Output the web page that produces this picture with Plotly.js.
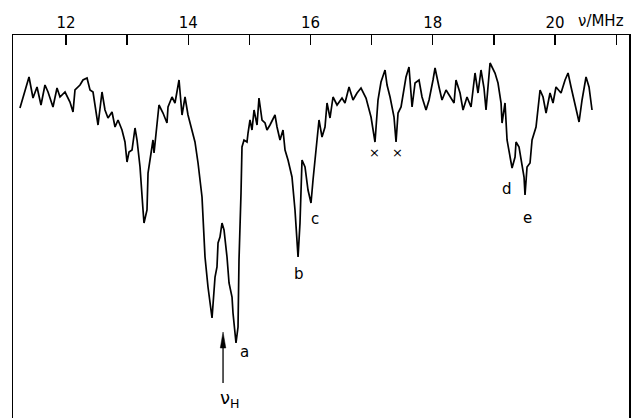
<!DOCTYPE html>
<html>
<head>
<meta charset="utf-8">
<script src="https://cdn.plot.ly/plotly-3.0.1.min.js"></script>
<style>html,body{margin:0;padding:0;background:#fff;}#chart{width:633px;height:418px;}</style>
</head>
<body>
<div id="chart"></div>
<script>
// frequency in MHz
const freq = [11.247,11.313,11.395,11.460,11.526,11.591,11.656,11.706,11.787,11.853,11.902,11.984,12.065,12.115,12.147,12.229,12.278,12.344,12.393,12.442,12.524,12.589,12.638,12.687,12.753,12.802,12.851,12.916,12.965,12.998,13.031,13.080,13.129,13.162,13.211,13.260,13.276,13.325,13.342,13.374,13.423,13.440,13.489,13.521,13.587,13.652,13.669,13.734,13.783,13.816,13.849,13.898,13.947,13.996,14.061,14.110,14.160,14.225,14.274,14.323,14.389,14.438,14.470,14.487,14.519,14.552,14.585,14.634,14.667,14.716,14.732,14.781,14.814,14.830,14.863,14.879,14.912,14.961,14.978,15.010,15.043,15.076,15.125,15.157,15.207,15.256,15.288,15.337,15.419,15.452,15.501,15.550,15.583,15.632,15.697,15.746,15.796,15.828,15.861,15.910,15.959,16.008,16.041,16.106,16.139,16.188,16.237,16.270,16.319,16.368,16.434,16.515,16.564,16.630,16.695,16.761,16.826,16.908,16.990,17.055,17.104,17.153,17.219,17.252,17.301,17.366,17.399,17.432,17.481,17.562,17.611,17.661,17.710,17.775,17.824,17.890,17.939,18.004,18.037,18.102,18.151,18.217,18.282,18.348,18.380,18.446,18.495,18.560,18.626,18.691,18.740,18.789,18.838,18.871,18.937,19.018,19.067,19.117,19.133,19.182,19.215,19.264,19.297,19.346,19.362,19.411,19.444,19.493,19.509,19.542,19.591,19.624,19.689,19.755,19.804,19.853,19.918,19.967,20.016,20.098,20.164,20.213,20.262,20.344,20.393,20.442,20.507,20.556,20.605];
// signal (arbitrary units)
const signal = [310,323,341,320,331,313,333,326,311,330,321,326,316,306,328,333,338,340,328,326,293,326,308,300,306,291,298,288,276,256,266,268,290,278,251,208,195,208,245,258,278,265,291,313,305,295,311,321,315,325,338,303,321,303,286,276,255,221,161,131,100,141,151,175,181,195,188,161,135,121,105,75,91,158,225,271,278,276,285,298,288,308,293,320,298,295,288,293,303,291,278,288,268,258,241,208,161,195,258,251,228,215,238,278,298,281,291,315,300,321,313,320,315,331,318,325,330,320,301,276,318,336,348,333,321,301,276,305,311,341,351,311,335,338,321,308,318,338,350,331,318,328,321,315,338,325,308,321,311,345,325,348,330,308,355,345,335,315,295,315,278,261,250,261,276,271,258,241,223,251,255,278,291,328,321,305,325,315,331,325,338,345,331,311,296,318,341,331,308];
// peak labels
const peakLabels = ['a','b','c','d','e','×','×'];
const peakX = [14.928,15.812,16.074,19.215,19.542,17.039,17.415];
const peakY = [66,144,199,229,200,266,266];

const trace = {x: freq, y: signal, type: 'scatter', mode: 'lines',
  line: {color: '#000', width: 1.7}, hoverinfo: 'skip'};

const fnt = {family: 'DejaVu Sans, sans-serif', size: 15, color: '#000'};
const ann = peakLabels.map((t, i) => ({x: peakX[i], y: peakY[i], text: t, showarrow: false,
  font: {family: 'DejaVu Sans, sans-serif', size: t === '×' ? 13 : 15, color: '#000'}}));
ann.push({x: 14.68, y: 19, text: 'ν<sub>H</sub>', showarrow: false,
  font: {family: 'DejaVu Sans, sans-serif', size: 18, color: '#000'}});
ann.push({xref: 'paper', yref: 'paper', x: 0.955, y: 1.036, xanchor: 'center', yanchor: 'middle',
  text: 'ν/MHz', showarrow: false, font: fnt});

const shapes = [
  {type: 'line', xref: 'x', yref: 'y', x0: 14.569, x1: 14.569, y0: 35, y1: 76,
   line: {color: '#000', width: 1.3}},
  {type: 'path', xref: 'x', yref: 'y', path: 'M14.569,86 L14.524,70 L14.614,70 Z',
   fillcolor: '#000', line: {color: '#000', width: 0.5}}
];

const layout = {
  width: 633, height: 418,
  margin: {l: 13, r: 4, t: 35, b: 0, pad: 0},
  paper_bgcolor: '#fff', plot_bgcolor: '#fff',
  showlegend: false,
  xaxis: {range: [11.133, 21.21], side: 'top', showgrid: false, zeroline: false,
    showline: true, linecolor: '#000', linewidth: 1.5, mirror: false,
    tickmode: 'linear', tick0: 12, dtick: 2,
    ticks: 'inside', ticklen: 10, tickwidth: 1.3, tickcolor: '#000',
    minor: {tickmode: 'linear', tick0: 11, dtick: 1, ticks: 'inside', ticklen: 10, tickwidth: 1.3, tickcolor: '#000', showgrid: false},
    tickfont: fnt},
  yaxis: {range: [0, 383], showgrid: false, zeroline: false, showticklabels: false,
    showline: true, linecolor: '#000', linewidth: 1.5, mirror: true, ticks: ''},
  annotations: ann,
  shapes: shapes
};
Plotly.newPlot('chart', [trace], layout, {staticPlot: true, displayModeBar: false});
</script>
</body>
</html>
